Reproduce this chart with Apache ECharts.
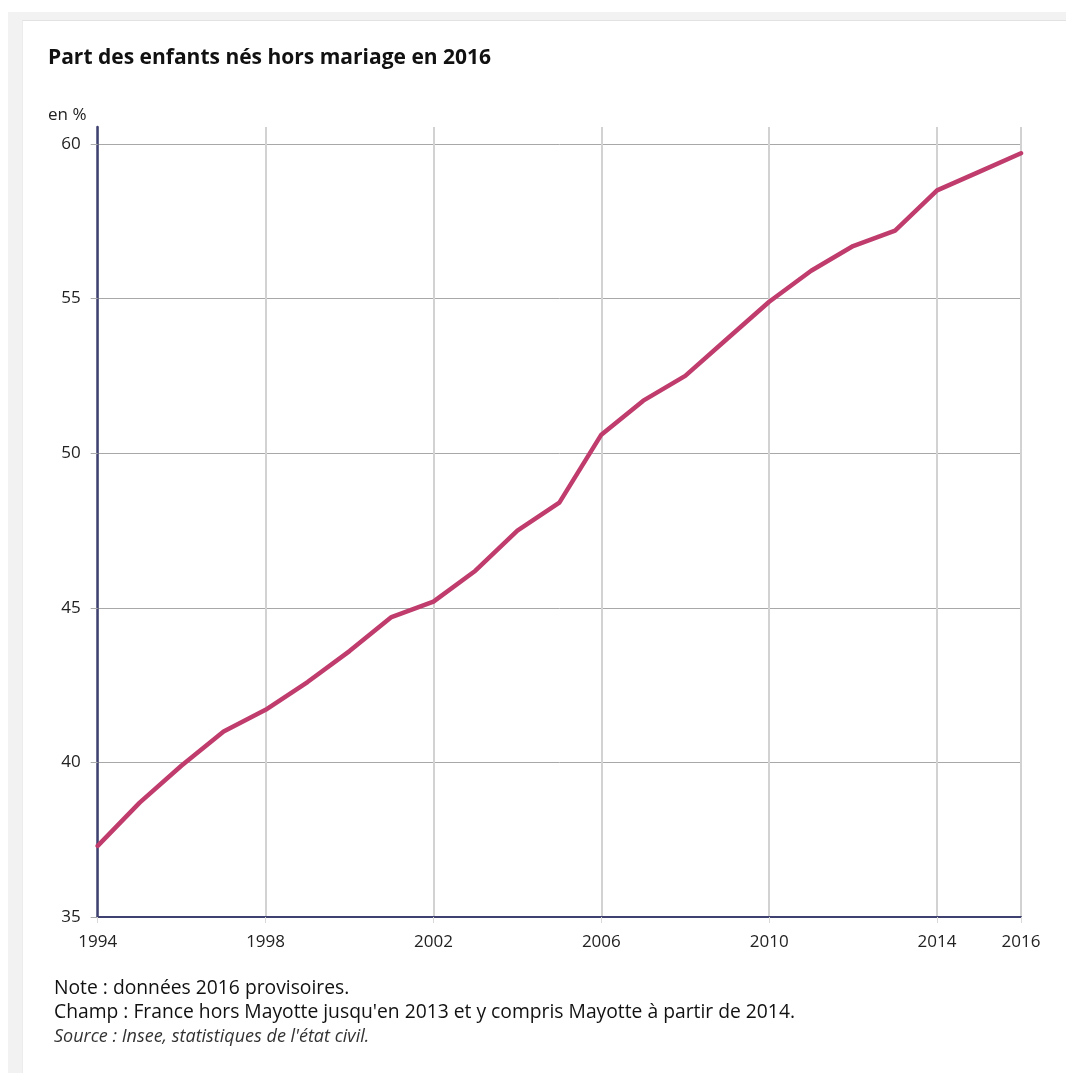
<!DOCTYPE html>
<html>
<head>
<meta charset="utf-8">
<script src="https://cdn.jsdelivr.net/npm/echarts@6/dist/echarts.min.js"></script>
<style>
  html, body { margin: 0; padding: 0; background: #ffffff; width: 1066px; height: 1073px; overflow: hidden; }
  #frame { position: absolute; left: 8px; top: 12px; width: 1058px; height: 1061px; background: #f2f2f2; }
  #card { position: absolute; left: 22px; top: 20px; width: 1044px; height: 1053px; background: #ffffff; border-top: 1px solid #e2e2e2; border-left: 1px solid #ececec; box-sizing: border-box; }
  #chart { position: absolute; left: 0; top: 0; width: 1066px; height: 1073px; }
</style>
</head>
<body>
<div id="frame"></div>
<div id="card"></div>
<div id="chart"></div>
<script>
// Data
const years = ['1994','1995','1996','1997','1998','1999','2000','2001','2002','2003','2004','2005',
               '2006','2007','2008','2009','2010','2011','2012','2013','2014','2015','2016'];
const shareOutOfWedlock = [37.3, 38.7, 39.9, 41.0, 41.7, 42.6, 43.6, 44.7, 45.2, 46.2, 47.5, 48.4,
                           50.6, 51.7, 52.5, 53.7, 54.9, 55.9, 56.7, 57.2, 58.5, 59.1, 59.7];
const shownYears = ['1994','1998','2002','2006','2010','2014','2016'];
const yTicks = [35, 40, 45, 50, 55, 60];

const titleText = 'Part des enfants nés hors mariage en 2016';
const unitText = 'en %';
const noteText = 'Note : données 2016 provisoires.';
const champText = "Champ : France hors Mayotte jusqu'en 2013 et y compris Mayotte à partir de 2014.";
const sourceText = "Source : Insee, statistiques de l'état civil.";

const FONT = '"Open Sans", "Noto Sans", sans-serif';
const showIdx = (idx) => shownYears.indexOf(years[idx]) >= 0;

const chart = echarts.init(document.getElementById('chart'), null, { renderer: 'canvas' });
chart.setOption({
  backgroundColor: 'transparent',
  animation: false,
  title: {
    text: titleText,
    left: 48, top: 48, padding: 0,
    textStyle: { fontFamily: FONT, fontSize: 21, fontWeight: 'bold', color: '#111111' }
  },
  grid: { left: 97.7, right: 45, top: 127, bottom: 156, containLabel: false },
  xAxis: {
    type: 'category',
    data: years,
    boundaryGap: false,
    axisLine: { show: true, lineStyle: { color: '#3f4270', width: 2 } },
    axisTick: { show: true, interval: (i) => showIdx(i), length: 6, lineStyle: { color: '#d8d8d8', width: 1 } },
    axisLabel: { interval: (i) => showIdx(i), margin: 17, fontFamily: FONT, fontSize: 17, color: '#222222' },
    splitLine: { show: true, interval: (i) => showIdx(i), lineStyle: { color: '#d2d2d2', width: 2 } }
  },
  yAxis: {
    type: 'value',
    min: yTicks[0],
    max: 60.55,
    interval: 5,
    axisLine: { show: true, lineStyle: { color: '#3f4270', width: 2.5 } },
    axisTick: { show: true, length: 7, lineStyle: { color: '#aaaaaa' } },
    axisLabel: {
      margin: 17, fontFamily: FONT, fontSize: 17, color: '#222222',
      showMaxLabel: false,
      formatter: (v) => (yTicks.indexOf(v) >= 0 ? String(v) : '')
    },
    splitLine: { show: true, showMaxLine: false, lineStyle: { color: '#a8a8a8', width: 1 } }
  },
  series: [{
    type: 'line',
    data: shareOutOfWedlock,
    showSymbol: false,
    symbol: 'none',
    lineStyle: { color: '#c03c6c', width: 4.5, join: 'round', cap: 'round' },
    z: 5
  }],
  graphic: [
    { type: 'text', left: 48, top: 107, style: { text: unitText, fontFamily: FONT, fontSize: 17, fill: '#222222' } },
    { type: 'text', left: 54, top: 979, style: { text: noteText, fontFamily: FONT, fontSize: 19.3, fill: '#111111' } },
    { type: 'text', left: 54, top: 1003, style: { text: champText, fontFamily: FONT, fontSize: 19.3, fill: '#111111' } },
    { type: 'text', left: 54, top: 1028, style: { text: sourceText, fontFamily: FONT, fontSize: 18, fontStyle: 'italic', fill: '#333333' } }
  ]
});
</script>
</body>
</html>
